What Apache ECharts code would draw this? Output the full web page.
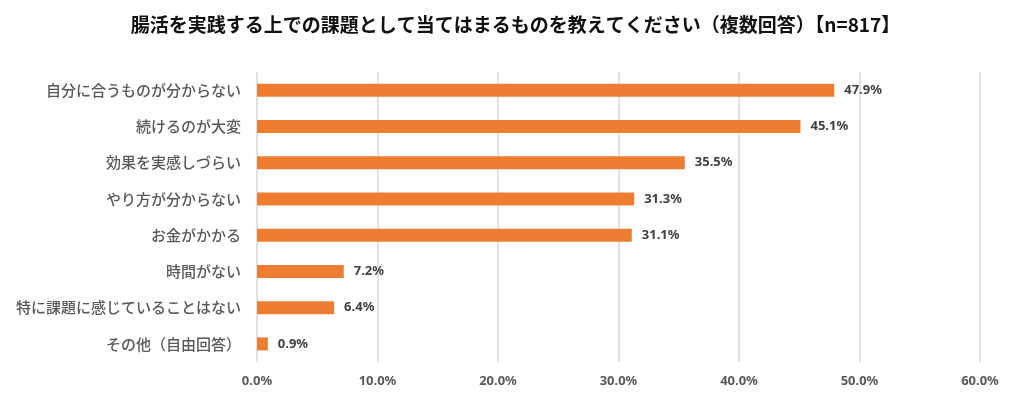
<!DOCTYPE html>
<html>
<head>
<meta charset="utf-8">
<script src="https://cdn.jsdelivr.net/npm/echarts@6/dist/echarts.min.js"></script>
<style>
html, body { margin: 0; padding: 0; background: #fff; }
#chart { width: 1031px; height: 411px; }
</style>
</head>
<body>
<div id="chart"></div>
<script>
var titleText = '腸活を実践する上での課題として当てはまるものを教えてください（複数回答）【n=817】';
var categories = ['自分に合うものが分からない', '続けるのが大変', '効果を実感しづらい', 'やり方が分からない', 'お金がかかる', '時間がない', '特に課題に感じていることはない', 'その他（自由回答）'];
var values = [47.9, 45.1, 35.5, 31.3, 31.1, 7.2, 6.4, 0.9];
var axisMax = 60;
var axisStep = 10;

var myChart = echarts.init(document.getElementById('chart'));
var option = {
    backgroundColor: '#fff',
    title: {
        text: titleText,
        left: 'center',
        top: 10,
        textStyle: {
            fontFamily: 'Noto Sans CJK JP',
            fontSize: 19,
            fontWeight: 'bold',
            color: '#111'
        }
    },
    grid: { left: 257, right: 51, top: 72, bottom: 49 },
    xAxis: {
        type: 'value',
        min: 0,
        max: axisMax,
        interval: axisStep,
        axisLine: { show: false },
        axisTick: { show: false },
        splitLine: { show: true, lineStyle: { color: '#d9d9d9', width: 1.5 } },
        axisLabel: {
            margin: 13,
            color: '#595959',
            fontFamily: 'Noto Sans',
            fontWeight: 'bold',
            fontSize: 13,
            formatter: function (v) { return v.toFixed(1) + '%'; }
        }
    },
    yAxis: {
        type: 'category',
        inverse: true,
        data: categories,
        axisLine: { show: false },
        axisTick: { show: false },
        axisLabel: {
            margin: 16,
            color: '#595959',
            fontFamily: 'Noto Sans CJK JP',
            fontWeight: 500,
            fontSize: 15
        }
    },
    series: [{
        type: 'bar',
        data: values,
        barWidth: 13,
        itemStyle: { color: '#ED7D31' },
        label: {
            show: true,
            position: 'right',
            distance: 10,
            color: '#404040',
            fontFamily: 'Noto Sans',
            fontWeight: 'bold',
            fontSize: 13,
            formatter: function (p) { return p.value.toFixed(1) + '%'; }
        },
        animation: false
    }]
};
myChart.setOption(option);
</script>
</body>
</html>
